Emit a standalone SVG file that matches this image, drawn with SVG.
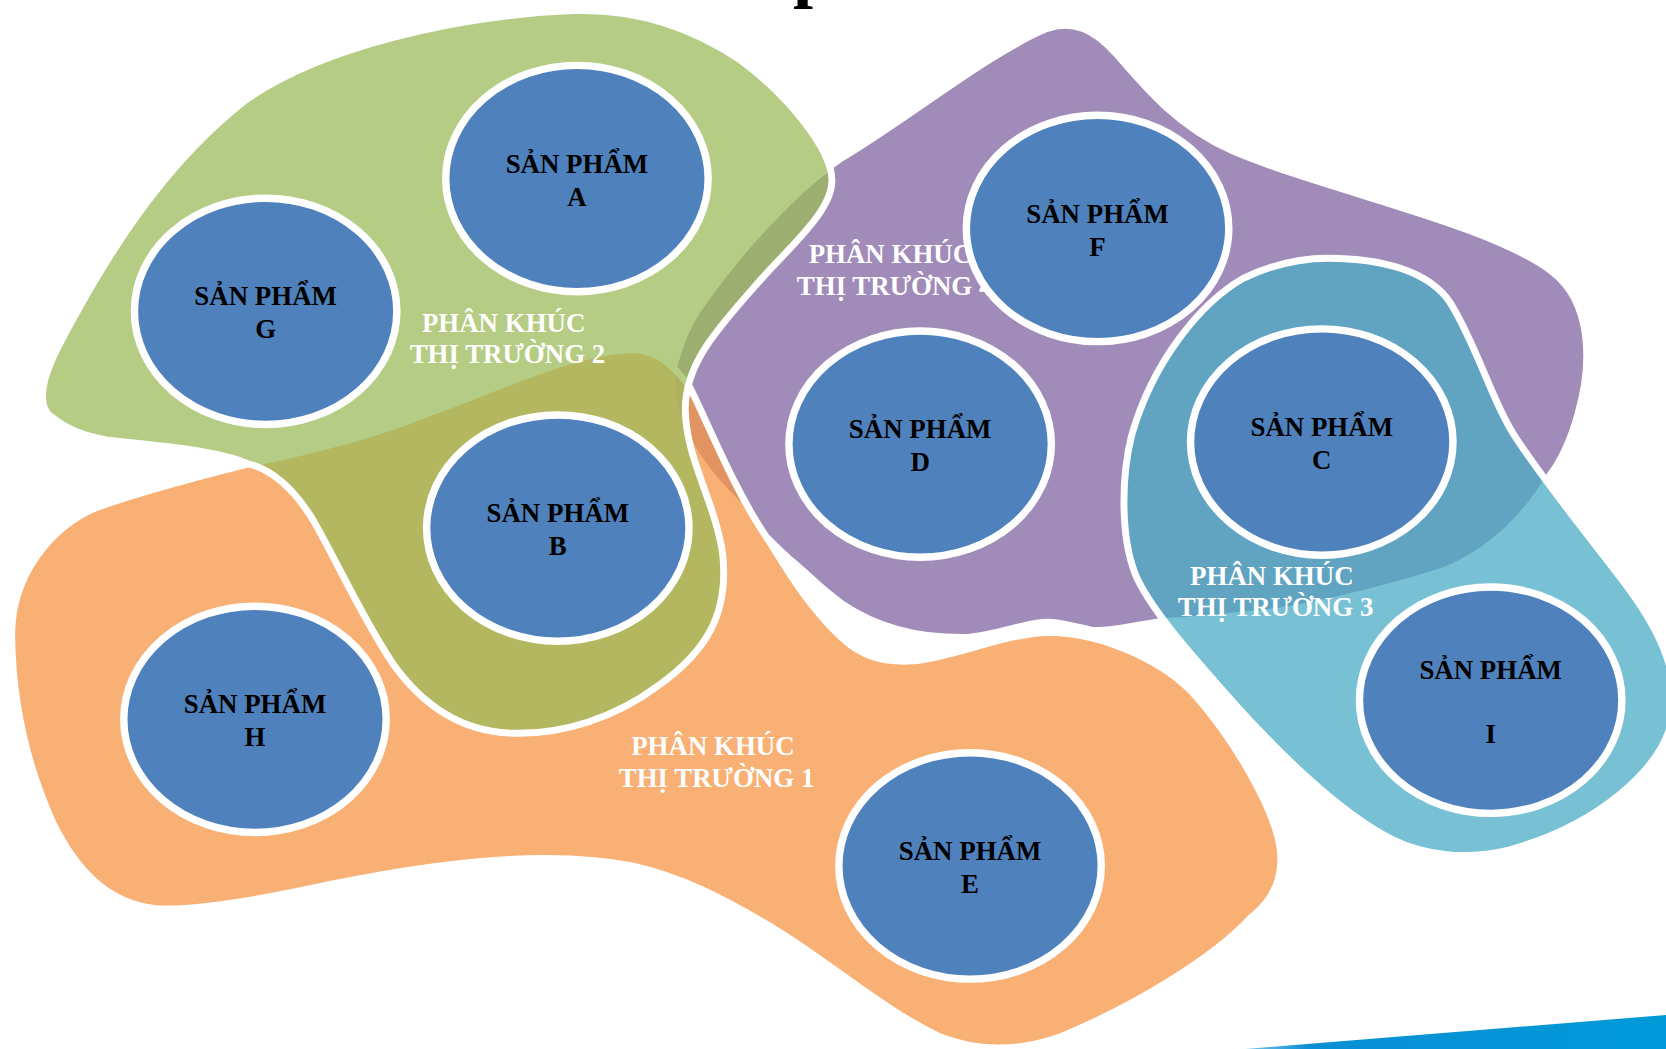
<svg xmlns="http://www.w3.org/2000/svg" width="1666" height="1049" viewBox="0 0 1666 1049">
<defs>
<linearGradient id="strip" x1="0" y1="0" x2="1" y2="0">
<stop offset="0" stop-color="#7cc6ec"/>
<stop offset="0.15" stop-color="#0a8fd4"/>
<stop offset="1" stop-color="#009ad9"/>
</linearGradient>
<style>
.blob{stroke:#ffffff;stroke-width:6.5;fill-opacity:0.75;stroke-linejoin:round}
.prod ellipse{fill:#4F81BD;stroke:#ffffff;stroke-width:7}
.pt{font-family:"Liberation Serif","Times New Roman",serif;font-weight:bold;font-size:25.3px;fill:#000000;text-anchor:middle}
.st{font-family:"Liberation Serif","Times New Roman",serif;font-weight:bold;font-size:25.3px;fill:#ffffff;text-anchor:middle}
</style>
</defs>
<rect width="1666" height="1049" fill="#ffffff"/>
<text x="793" y="-6" font-family="Liberation Serif, serif" font-weight="bold" font-size="72" fill="#000">p</text>
<polygon points="1245,1049 1666,1015 1666,1049" fill="url(#strip)"/>
<g transform="scale(1.0625)">
<g id="segment4">
<path class="blob" fill="#8064A2" d="M 790,150 C 850,115 930,50 985,27 C 1010,18 1030,28 1050,50 C 1080,85 1110,120 1160,142 C 1250,180 1400,210 1460,255 C 1500,285 1498,345 1485,390 C 1478,415 1468,435 1459,447 C 1440,480 1410,515 1362,536 C 1320,550 1250,568 1205,575 C 1160,580 1120,584 1092,585 C 1060,590 1040,595 1027,593 C 1005,588 990,584 979,586 C 950,590 930,600 906,600 C 860,600 825,590 792,568 C 770,552 760,540 745,528 C 725,510 710,495 700,480 C 680,460 660,440 645,410 C 635,390 630,370 633,350 C 640,320 650,300 665,280 C 690,245 740,185 790,150 Z"/>
<text class="st" x="838" y="247.5">PHÂN KHÚC</text>
<text class="st" x="842" y="277.6">THỊ TRƯỜNG 4</text>
</g>
<g id="segment1">
<path class="blob" fill="#F79646" d="M 232,437 C 290,425 350,410 395,392 C 470,365 540,330 596,329 C 620,330 635,345 649,364 C 665,395 690,460 723,508 C 740,535 760,570 792,600 C 810,617 830,624 860,622 C 900,618 940,598 985,595 C 1040,595 1100,625 1127,657 C 1160,695 1200,760 1205,800 C 1208,830 1195,850 1178,863 C 1140,905 1060,950 1000,975 C 960,990 920,990 885,976 C 830,950 780,905 725,872 C 680,845 640,825 595,815 C 520,800 420,810 313,832 C 240,848 180,858 145,855 C 105,850 75,825 50,775 C 25,720 12,660 11,600 C 10,540 50,495 90,478 C 140,460 190,448 232,437 Z"/>
<text class="st" x="671" y="710.6">PHÂN KHÚC</text>
<text class="st" x="674.4" y="740.7">THỊ TRƯỜNG 1</text>
</g>
<g id="segment2">
<path class="blob" fill="#9BBB59" d="M 40,372 C 40,352 55,325 70,298 C 110,225 160,150 230,95 C 300,45 430,14 540,10 C 600,8 650,25 696,56 C 740,88 783,140 783,170 C 783,200 740,235 710,270 C 670,315 645,345 645,385 C 645,430 672,470 680,520 C 687,580 662,615 620,645 C 580,675 530,692 480,690 C 430,688 395,660 370,625 C 340,580 318,530 295,490 C 278,462 258,442 232,436 C 200,422 130,418 100,414 C 75,410 60,402 48,392 C 42,388 40,380 40,372 Z"/>
<text class="st" x="474" y="312.5">PHÂN KHÚC</text>
<text class="st" x="477.6" y="341.6">THỊ TRƯỜNG 2</text>
</g>
<g id="segment3">
<path class="blob" fill="#4BACC6" d="M 1250,243 C 1300,243 1345,255 1365,285 C 1390,325 1405,380 1428,414 C 1460,462 1500,510 1530,550 C 1560,590 1580,630 1575,670 C 1568,725 1500,778 1420,800 C 1380,810 1340,805 1310,790 C 1260,765 1200,705 1159,659 C 1120,615 1080,570 1068,539 C 1055,505 1055,450 1065,410 C 1085,340 1130,285 1170,262 C 1195,250 1220,243 1250,243 Z"/>
<text class="st" x="1197" y="550.6">PHÂN KHÚC</text>
<text class="st" x="1200.5" y="579.8">THỊ TRƯỜNG 3</text>
</g>
<g id="productA" class="prod"><ellipse cx="543" cy="168" rx="123.5" ry="106.5"/><text class="pt" x="543" y="162.5">SẢN PHẨM</text><text class="pt" x="543" y="193.5">A</text></g>
<g id="productG" class="prod"><ellipse cx="250" cy="293" rx="123.5" ry="106.5"/><text class="pt" x="250" y="287.5">SẢN PHẨM</text><text class="pt" x="250" y="318.5">G</text></g>
<g id="productF" class="prod"><ellipse cx="1033" cy="215" rx="123.5" ry="106.5"/><text class="pt" x="1033" y="209.5">SẢN PHẨM</text><text class="pt" x="1033" y="240.5">F</text></g>
<g id="productD" class="prod"><ellipse cx="866" cy="418" rx="123.5" ry="106.5"/><text class="pt" x="866" y="412.5">SẢN PHẨM</text><text class="pt" x="866" y="443.5">D</text></g>
<g id="productC" class="prod"><ellipse cx="1244" cy="416" rx="123.5" ry="106.5"/><text class="pt" x="1244" y="410.5">SẢN PHẨM</text><text class="pt" x="1244" y="441.5">C</text></g>
<g id="productB" class="prod"><ellipse cx="525" cy="497" rx="123.5" ry="106.5"/><text class="pt" x="525" y="491.5">SẢN PHẨM</text><text class="pt" x="525" y="522.5">B</text></g>
<g id="productH" class="prod"><ellipse cx="240" cy="677" rx="123.5" ry="106.5"/><text class="pt" x="240" y="671.5">SẢN PHẨM</text><text class="pt" x="240" y="702.5">H</text></g>
<g id="productE" class="prod"><ellipse cx="913" cy="815" rx="123.5" ry="106.5"/><text class="pt" x="913" y="809.5">SẢN PHẨM</text><text class="pt" x="913" y="840.5">E</text></g>
<g id="productI" class="prod"><ellipse cx="1403" cy="659" rx="123.5" ry="106.5"/><text class="pt" x="1403" y="639.5">SẢN PHẨM</text><text class="pt" x="1403" y="699.5">I</text></g>
</g>
</svg>
